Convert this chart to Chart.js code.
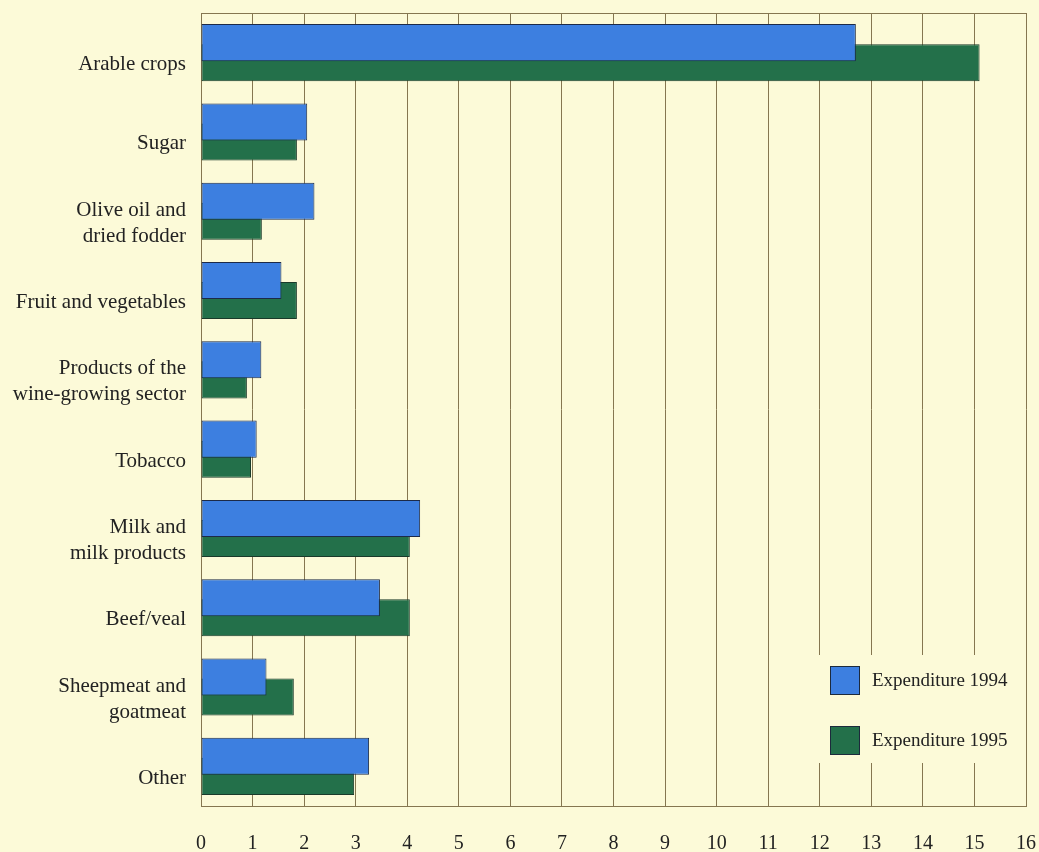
<!DOCTYPE html>
<html>
<head>
<meta charset="utf-8">
<script src="https://cdn.jsdelivr.net/npm/chart.js@4/dist/chart.umd.min.js"></script>
<style>
    html, body { margin: 0; padding: 0; background: #fcfad8; }
    #wrap { width: 1039px; height: 852px; }
</style>
</head>
<body>
<div id="wrap"><canvas id="expenditureChart" width="1039" height="852"></canvas></div>
<script>
// Categories (multi-line labels are arrays)
let sectors = [
    "Arable crops",
    "Sugar",
    ["Olive oil and", "dried fodder"],
    "Fruit and vegetables",
    ["Products of the", "wine-growing sector"],
    "Tobacco",
    ["Milk and", "milk products"],
    "Beef/veal",
    ["Sheepmeat and", "goatmeat"],
    "Other"
];

let expenditure1994 = [12.7, 2.06, 2.2, 1.56, 1.17, 1.08, 4.25, 3.47, 1.27, 3.26];
let expenditure1995 = [15.1, 1.86, 1.18, 1.86, 0.89, 0.97, 4.05, 4.05, 1.8, 2.97];

let seriesNames = ["Expenditure 1994", "Expenditure 1995"];
let xTicks = [0, 1, 2, 3, 4, 5, 6, 7, 8, 9, 10, 11, 12, 13, 14, 15, 16];

const fontFamily = "'Liberation Serif', 'DejaVu Serif', serif";
const gridColor = "#857650";

// Top frame line and the legend drawn inside the plot area
const frameAndLegend = {
    id: "frameAndLegend",
    afterDatasetsDraw(chart) {
        let ctx = chart.ctx;
        let area = chart.chartArea;
        ctx.save();
        ctx.strokeStyle = gridColor;
        ctx.lineWidth = 1;
        ctx.beginPath();
        ctx.moveTo(area.left, area.top + 0.5);
        ctx.lineTo(area.right, area.top + 0.5);
        ctx.stroke();

        // Legend block covers the grid lines behind it
        ctx.fillStyle = "#fcfad8";
        ctx.fillRect(810, 655, 212, 108);

        ctx.font = "19px " + fontFamily;
        ctx.textBaseline = "middle";
        chart.data.datasets.forEach(function(ds, i) {
            let y = 666 + i * 60;
            ctx.fillStyle = ds.backgroundColor;
            ctx.fillRect(830, y, 30, 29);
            ctx.strokeStyle = "#1c2a3c";
            ctx.strokeRect(830.5, y + 0.5, 29, 28);
            ctx.fillStyle = "#222";
            ctx.fillText(ds.label, 872, y + 15);
        });
        ctx.restore();
    }
};

new Chart(document.getElementById("expenditureChart"), {
    type: "bar",
    data: {
        labels: sectors,
        datasets: [
            {
                label: seriesNames[0],
                data: expenditure1994,
                backgroundColor: "#3d7fe0",
                borderColor: "#1c2a48",
                borderWidth: 1,
                borderSkipped: false,
                categoryPercentage: 0.505,
                barPercentage: 1.85
            },
            {
                label: seriesNames[1],
                data: expenditure1995,
                backgroundColor: "#23704a",
                borderColor: "#1a3a2a",
                borderWidth: 1,
                borderSkipped: false,
                categoryPercentage: 0.505,
                barPercentage: 1.85
            }
        ]
    },
    options: {
        indexAxis: "y",
        responsive: false,
        animation: false,
        layout: { padding: { top: 13, right: 13, left: 0, bottom: 0 } },
        plugins: {
            legend: { display: false },
            tooltip: { enabled: false }
        },
        scales: {
            x: {
                min: 0,
                max: 16,
                afterBuildTicks: function(scale) {
                    scale.ticks = xTicks.map(v => ({ value: v }));
                },
                afterFit: function(scale) {
                    scale.height = 46;
                    scale.paddingLeft = 0;
                    scale.paddingRight = 0;
                },
                grid: { color: gridColor, drawTicks: false, lineWidth: 1 },
                border: { color: gridColor },
                ticks: {
                    padding: 26,
                    color: "#222",
                    font: { family: fontFamily, size: 20 }
                }
            },
            y: {
                afterFit: function(scale) {
                    scale.width = 201;
                    scale.paddingTop = 0;
                    scale.paddingBottom = 0;
                },
                grid: { display: false, drawTicks: false },
                border: { color: gridColor },
                ticks: {
                    padding: 15,
                    labelOffset: 12,
                    color: "#222",
                    font: { family: fontFamily, size: 21, lineHeight: 1.24 }
                }
            }
        }
    },
    plugins: [frameAndLegend]
});
</script>
</body>
</html>
